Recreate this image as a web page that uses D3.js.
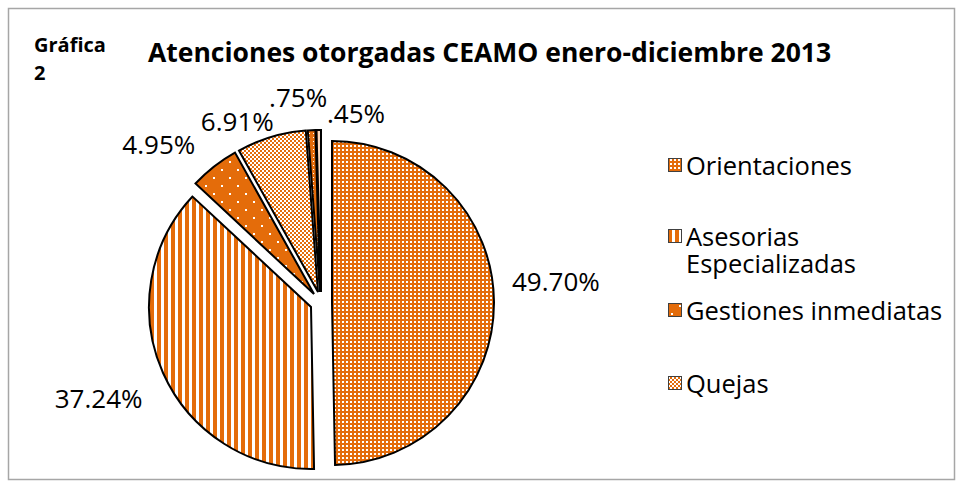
<!DOCTYPE html>
<head>
  <meta charset="utf-8">
  <script src="https://d3js.org/d3.v7.min.js"></script>
  <style>
    body { margin: 0; background: #fff; }
    svg { width: 963px; height: 488px; display: block; }
    text { font-family: "Open Sans", "DejaVu Sans", sans-serif; fill: #000; }
  </style>
</head>

<body>
  <svg></svg>

  <script>
    // data
    const categories = ['Orientaciones', 'Asesorias Especializadas', 'Gestiones inmediatas', 'Quejas', 'Otros 1', 'Otros 2'];
    const values = [49.70, 37.24, 4.95, 6.91, 0.75, 0.45];
    const labels = ['49.70%', '37.24%', '4.95%', '6.91%', '.75%', '.45%'];
    const legendLines = [['Orientaciones'], ['Asesorias', 'Especializadas'], ['Gestiones inmediatas'], ['Quejas']];

    const W = 963, H = 488;
    const orange = '#E46C0A';
    const svg = d3.select('svg').attr('viewBox', `0 0 ${W} ${H}`);

    // frame
    svg.append('rect')
      .attr('x', 8.5).attr('y', 8.5)
      .attr('width', W - 17).attr('height', H - 17)
      .attr('fill', '#fff').attr('stroke', '#a6a6a6').attr('stroke-width', 1.5);

    /*****************************************************
    ** fill patterns
    ******************************************************/
    const defs = svg.append('defs');
    function pattern(id, size, draw) {
      const p = defs.append('pattern')
        .attr('id', id).attr('patternUnits', 'userSpaceOnUse')
        .attr('width', size).attr('height', size);
      draw(p);
    }
    // dense white dots
    pattern('p0', 4, p => {
      p.append('rect').attr('width', 4).attr('height', 4).attr('fill', orange);
      p.append('rect').attr('x', 2).attr('y', 2).attr('width', 2).attr('height', 2).attr('fill', '#fff');
    });
    // vertical stripes
    pattern('p1', 7, p => {
      p.append('rect').attr('width', 7).attr('height', 7).attr('fill', '#fff');
      p.append('rect').attr('width', 4).attr('height', 7).attr('fill', orange);
    });
    // sparse dots
    pattern('p2', 16, p => {
      p.append('rect').attr('width', 16).attr('height', 16).attr('fill', orange);
      p.append('rect').attr('x', 3).attr('y', 3).attr('width', 2).attr('height', 2).attr('fill', '#fff');
      p.append('rect').attr('x', 11).attr('y', 11).attr('width', 2).attr('height', 2).attr('fill', '#fff');
    });
    // checkerboard
    pattern('p3', 4, p => {
      p.append('rect').attr('width', 4).attr('height', 4).attr('fill', '#fff');
      p.append('rect').attr('width', 2).attr('height', 2).attr('fill', orange);
      p.append('rect').attr('x', 2).attr('y', 2).attr('width', 2).attr('height', 2).attr('fill', orange);
    });
    pattern('p4', 4, p => {
      p.append('rect').attr('width', 4).attr('height', 4).attr('fill', orange);
      p.append('rect').attr('x', 1).attr('y', 1).attr('width', 1).attr('height', 1).attr('fill', '#fff');
    });
    pattern('p5', 4, p => {
      p.append('rect').attr('width', 4).attr('height', 4).attr('fill', '#fbd9bd');
      p.append('rect').attr('width', 1).attr('height', 4).attr('fill', '#f3a46a');
    });
    const fills = categories.map((c, i) => `url(#p${i})`);

    /*****************************************************
    ** pie
    ******************************************************/
    const cx = 321, cy = 303, r = 162, explode = 11;
    const pie = d3.pie().sort(null).value(d => d);
    const arcs = pie(values);
    const arc = d3.arc().innerRadius(0).outerRadius(r);
    const mid = d => (d.startAngle + d.endAngle) / 2;

    const g = svg.append('g').attr('transform', `translate(${cx},${cy})`);
    // whole-pixel offsets keep the pattern fills crisp
    g.selectAll('path')
      .data(arcs)
      .enter().append('path')
      .attr('d', arc)
      .attr('transform', d => `translate(${Math.round(Math.sin(mid(d)) * explode)},${Math.round(-Math.cos(mid(d)) * explode)})`)
      .attr('fill', (d, i) => fills[i])
      .attr('stroke', '#000')
      .attr('stroke-width', 2)
      .attr('stroke-linejoin', 'miter');

    // data labels, outside end, with small moves like the original
    const labelNudge = [[10, -20], [-17, 16], [-28, -7], [-21, 3], [-12, -14], [38, 3]];
    const labelSize = 26;
    g.selectAll('text.lbl')
      .data(arcs)
      .enter().append('text')
      .attr('class', 'lbl')
      .style('font-size', labelSize + 'px')
      .attr('text-anchor', 'middle')
      .attr('dominant-baseline', 'central')
      .text((d, i) => labels[i])
      .each(function(d, i) {
        const a = mid(d);
        const ux = Math.sin(a), uy = -Math.cos(a);
        const w = this.getComputedTextLength();
        const h = labelSize * 0.9;
        const rr = r + explode + 8;
        const x = ux * rr + ux * w / 2 + labelNudge[i][0];
        const y = uy * rr + uy * h / 2 + labelNudge[i][1];
        d3.select(this).attr('x', x).attr('y', y);
      });

    /*****************************************************
    ** titles
    ******************************************************/
    svg.append('text')
      .attr('x', 148).attr('y', 62)
      .style('font-size', '26.5px').style('font-weight', 700)
      .text('Atenciones otorgadas CEAMO enero-diciembre 2013');
    const gt = svg.append('text')
      .attr('x', 34).attr('y', 52)
      .style('font-size', '20px').style('font-weight', 700);
    gt.append('tspan').attr('x', 34).text('Gráfica');
    gt.append('tspan').attr('x', 34).attr('dy', 28).text('2');

    /*****************************************************
    ** legend
    ******************************************************/
    const legendY = [165, 236, 310, 383];
    const legend = svg.append('g').selectAll('g')
      .data(legendLines)
      .enter().append('g')
      .attr('transform', (d, i) => `translate(668,${legendY[i]})`);
    legend.append('rect')
      .attr('x', 0.5).attr('y', -6.5)
      .attr('width', 13).attr('height', 13)
      .attr('fill', (d, i) => fills[i])
      .attr('stroke', '#404040').attr('stroke-width', 1);
    legend.append('text')
      .style('font-size', '25.5px')
      .selectAll('tspan')
      .data(d => d)
      .enter().append('tspan')
      .attr('x', 18)
      .attr('y', (d, j) => j * 27)
      .attr('dominant-baseline', 'central')
      .text(d => d);
  </script>
</body>
